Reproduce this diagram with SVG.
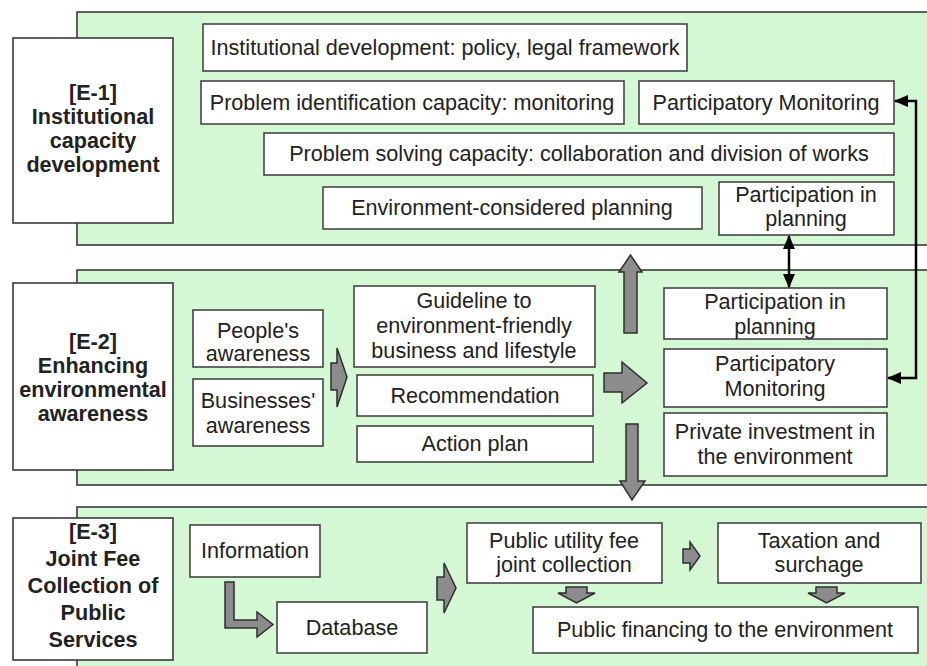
<svg xmlns="http://www.w3.org/2000/svg" width="927" height="666" viewBox="0 0 927 666">
<defs>
<style>
.panel{fill:#d4f7d4;stroke:#3a3a3a;stroke-width:1.6}
.lbl{fill:#ffffff;stroke:#3a3a3a;stroke-width:1.6}
.box{fill:#ffffff;stroke:#3a3a3a;stroke-width:1.5}
.bt{font-family:"Liberation Sans",Arial,sans-serif;font-size:21.6px;fill:#222;text-anchor:middle}
.lt{font-family:"Liberation Sans",Arial,sans-serif;font-size:21.6px;font-weight:bold;fill:#222;text-anchor:middle}
.ga{fill:#8c8c8c;stroke:#2e2e2e;stroke-width:1.5;stroke-linejoin:miter}
.con{fill:none;stroke:#000;stroke-width:2.5}
</style>
<marker id="ah" viewBox="0 0 14 12" refX="13" refY="6" markerWidth="14" markerHeight="12" markerUnits="userSpaceOnUse" orient="auto-start-reverse">
<path d="M0,0 L14,6 L0,12 Z" fill="#000"/>
</marker>
</defs>
<rect width="927" height="666" fill="#ffffff"/>

<!-- panels -->
<g id="panel-e1"><rect class="panel" x="77" y="12" width="860" height="233"/></g>
<g id="panel-e2"><rect class="panel" x="77" y="270" width="860" height="215"/></g>
<g id="panel-e3"><rect class="panel" x="77" y="507" width="860" height="170"/></g>

<!-- label boxes -->
<g id="label-e1"><rect class="lbl" x="13" y="38" width="160" height="185"/>
<text class="lt" x="93" y="100">[E-1]</text><text class="lt" x="93" y="124">Institutional</text><text class="lt" x="93" y="148">capacity</text><text class="lt" x="93" y="172">development</text></g>
<g id="label-e2"><rect class="lbl" x="13" y="283" width="160" height="187"/>
<text class="lt" x="93" y="349">[E-2]</text><text class="lt" x="93" y="373">Enhancing</text><text class="lt" x="93" y="397">environmental</text><text class="lt" x="93" y="421">awareness</text></g>
<g id="label-e3"><rect class="lbl" x="13" y="518" width="160" height="142"/>
<text class="lt" x="93" y="539">[E-3]</text><text class="lt" x="93" y="566">Joint Fee</text><text class="lt" x="93" y="593">Collection of</text><text class="lt" x="93" y="620">Public</text><text class="lt" x="93" y="647">Services</text></g>

<!-- E1 boxes -->
<g id="inst-dev"><rect class="box" x="203" y="24" width="484" height="47"/><text class="bt" x="445" y="55">Institutional development: policy, legal framework</text></g>
<g id="prob-id"><rect class="box" x="201" y="81" width="423" height="43"/><text class="bt" x="412" y="110">Problem identification capacity: monitoring</text></g>
<g id="part-mon-1"><rect class="box" x="639" y="81" width="255" height="43"/><text class="bt" x="766" y="110">Participatory Monitoring</text></g>
<g id="prob-solve"><rect class="box" x="264" y="133" width="630" height="42"/><text class="bt" x="579" y="161">Problem solving capacity: collaboration and division of works</text></g>
<g id="env-plan"><rect class="box" x="323" y="187" width="379" height="42"/><text class="bt" x="512" y="215">Environment-considered planning</text></g>
<g id="part-plan-1"><rect class="box" x="719" y="182" width="175" height="53"/><text class="bt" x="806" y="202">Participation in</text><text class="bt" x="806" y="226">planning</text></g>

<!-- E2 boxes -->
<g id="people"><rect class="box" x="193" y="310" width="130" height="57"/><text class="bt" x="258" y="338">People's</text><text class="bt" x="258" y="361">awareness</text></g>
<g id="business"><rect class="box" x="193" y="379" width="130" height="67"/><text class="bt" x="258" y="408">Businesses'</text><text class="bt" x="258" y="433">awareness</text></g>
<g id="guideline"><rect class="box" x="354" y="286" width="241" height="81"/><text class="bt" x="474" y="308">Guideline to</text><text class="bt" x="474" y="333">environment-friendly</text><text class="bt" x="474" y="358">business and lifestyle</text></g>
<g id="recommend"><rect class="box" x="357" y="375" width="236" height="41"/><text class="bt" x="475" y="403">Recommendation</text></g>
<g id="action"><rect class="box" x="357" y="426" width="236" height="36"/><text class="bt" x="475" y="451">Action plan</text></g>
<g id="part-plan-2"><rect class="box" x="664" y="288" width="223" height="51"/><text class="bt" x="775" y="309">Participation in</text><text class="bt" x="775" y="334">planning</text></g>
<g id="part-mon-2"><rect class="box" x="664" y="349" width="223" height="58"/><text class="bt" x="775" y="371">Participatory</text><text class="bt" x="775" y="396">Monitoring</text></g>
<g id="private"><rect class="box" x="664" y="413" width="223" height="63"/><text class="bt" x="775" y="439">Private investment in</text><text class="bt" x="775" y="464">the environment</text></g>

<!-- E3 boxes -->
<g id="information"><rect class="box" x="190" y="525" width="130" height="52"/><text class="bt" x="255" y="558">Information</text></g>
<g id="database"><rect class="box" x="277" y="602" width="150" height="51"/><text class="bt" x="352" y="635">Database</text></g>
<g id="utility"><rect class="box" x="467" y="523" width="195" height="60"/><text class="bt" x="564" y="548">Public utility fee</text><text class="bt" x="564" y="572">joint collection</text></g>
<g id="taxation"><rect class="box" x="718" y="523" width="203" height="60"/><text class="bt" x="819" y="548">Taxation and</text><text class="bt" x="819" y="572">surchage</text></g>
<g id="financing"><rect class="box" x="533" y="607" width="385" height="46"/><text class="bt" x="725" y="637">Public financing to the environment</text></g>

<!-- connectors -->
<g id="connectors">
<path class="ga" d="M331,363 L337,363 L337,348 L347,377 L337,407 L337,390 L331,390 Z"/>
<path class="ga" d="M624,333 L624,272 L619,272 L630.5,255 L642,272 L637,272 L637,333 Z"/>
<path class="ga" d="M604,373 L622,373 L622,362 L647,383 L622,403 L622,392 L604,392 Z"/>
<path class="ga" d="M626,424 L638,424 L638,481 L645,481 L632,500 L620,481 L626,481 Z"/>
<path class="ga" d="M225,582 L234,582 L234,620 L257,620 L257,612 L273,624.5 L257,637 L257,628 L225,628 Z"/>
<path class="ga" d="M437,577 L444,577 L444,563 L456,588 L444,613 L444,600 L437,600 Z"/>
<path class="ga" d="M683,549 L690,549 L690,542 L700,556 L690,570 L690,563 L683,563 Z"/>
<path class="ga" d="M566,587 L587,587 L587,593 L595,593 L576.5,603 L558,593 L566,593 Z"/>
<path class="ga" d="M816,587 L837,587 L837,593 L845,593 L826.5,603 L808,593 L816,593 Z"/>
<line class="con" x1="789" y1="236" x2="789" y2="287" marker-start="url(#ah)" marker-end="url(#ah)"/>
<path class="con" d="M895,101 L916,101 L916,378 L888,378" marker-start="url(#ah)" marker-end="url(#ah)"/>
</g>
</svg>
